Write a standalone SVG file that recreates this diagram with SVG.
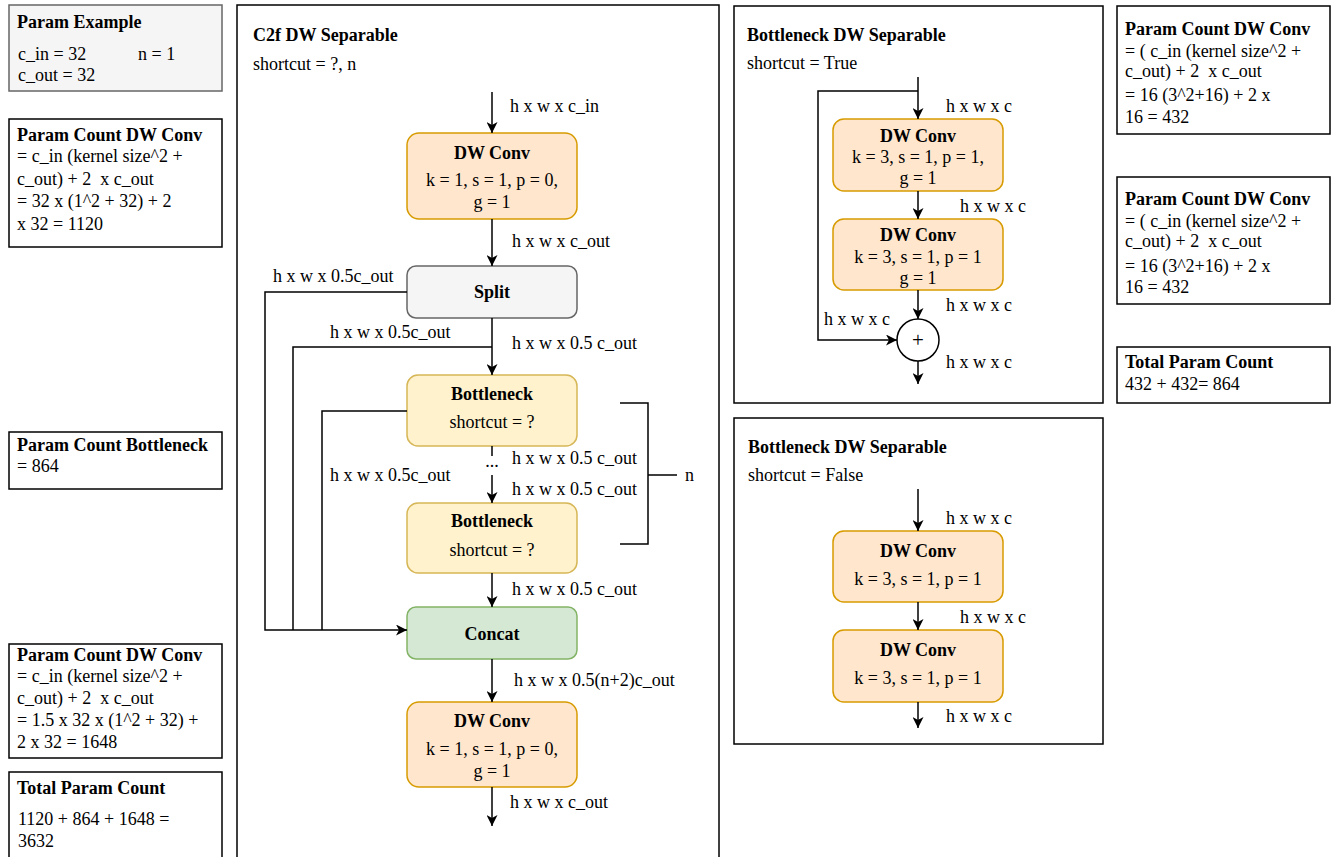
<svg xmlns="http://www.w3.org/2000/svg" width="1336" height="857" viewBox="0 0 1336 857">
  <style>
    text { font-family: "Liberation Serif", "Times New Roman", serif; font-size: 18px; fill: #000; white-space: pre; }
    .b { font-weight: bold; }
    .c { text-anchor: middle; }
    .panel { fill: #fff; stroke: #000; stroke-width: 1.5; }
    .note { fill: #f5f5f5; stroke: #666; stroke-width: 1.5; }
    .conv { fill: #ffe6cc; stroke: #d79b00; stroke-width: 1.5; }
    .split { fill: #f5f5f5; stroke: #666666; stroke-width: 1.5; }
    .bneck { fill: #fff2cc; stroke: #d6b656; stroke-width: 1.5; }
    .concat { fill: #d5e8d4; stroke: #82b366; stroke-width: 1.5; }
    .edge { fill: none; stroke: #000; stroke-width: 1.5; }
  </style>
  <defs>
    <marker id="arrow" markerUnits="userSpaceOnUse" markerWidth="12" markerHeight="11" refX="11" refY="5.5" orient="auto">
      <path d="M0,0 L11,5.5 L0,11 L3,5.5 Z" fill="#000"/>
    </marker>
  </defs>
  <rect width="1336" height="857" fill="#fff"/>

  <!-- left column: parameter notes -->
  <g id="param-example">
    <rect class="note" x="9" y="5" width="213" height="86"/>
    <text class="b" x="17" y="28">Param Example</text>
    <text x="18" y="60">c_in = 32</text>
    <text x="138" y="60">n = 1</text>
    <text x="18" y="81">c_out = 32</text>
  </g>
  <g id="count-conv-in">
    <rect class="panel" x="9" y="119" width="213" height="128"/>
    <text class="b" x="17" y="141">Param Count DW Conv</text>
    <text x="17" y="162">= c_in (kernel size^2 +</text>
    <text x="17" y="185" xml:space="preserve">c_out) + 2  x c_out</text>
    <text x="17" y="207">= 32 x (1^2 + 32) + 2</text>
    <text x="17" y="230">x 32 = 1120</text>
  </g>
  <g id="count-bottleneck">
    <rect class="panel" x="9" y="432" width="213" height="57"/>
    <text class="b" x="17" y="451">Param Count Bottleneck</text>
    <text x="17" y="472">= 864</text>
  </g>
  <g id="count-conv-out">
    <rect class="panel" x="9" y="644" width="213" height="114"/>
    <text class="b" x="17" y="661">Param Count DW Conv</text>
    <text x="17" y="682">= c_in (kernel size^2 +</text>
    <text x="17" y="704" xml:space="preserve">c_out) + 2  x c_out</text>
    <text x="17" y="726">= 1.5 x 32 x (1^2 + 32) +</text>
    <text x="17" y="748">2 x 32 = 1648</text>
  </g>
  <g id="total-c2f">
    <rect class="panel" x="9" y="772" width="213" height="100"/>
    <text class="b" x="17" y="794">Total Param Count</text>
    <text x="18" y="825">1120 + 864 + 1648 =</text>
    <text x="18" y="847">3632</text>
  </g>

  <!-- C2f block -->
  <g id="c2f-panel">
    <rect class="panel" x="237" y="5" width="482" height="870"/>
    <text class="b" x="253" y="41">C2f DW Separable</text>
    <text x="253" y="70">shortcut = ?, n</text>
  </g>
  <g id="c2f-conv-in">
    <rect class="conv" x="407" y="133" width="170" height="86" rx="12"/>
    <text class="b c" x="492" y="159">DW Conv</text>
    <text class="c" x="492" y="186">k = 1, s = 1, p = 0,</text>
    <text class="c" x="492" y="208">g = 1</text>
  </g>
  <g id="c2f-split">
    <rect class="split" x="407" y="266" width="170" height="52" rx="9"/>
    <text class="b c" x="492" y="298">Split</text>
  </g>
  <g id="c2f-bottleneck-1">
    <rect class="bneck" x="407" y="375" width="170" height="71" rx="11"/>
    <text class="b c" x="492" y="400">Bottleneck</text>
    <text class="c" x="492" y="428">shortcut = ?</text>
  </g>
  <g id="c2f-bottleneck-n">
    <rect class="bneck" x="407" y="503" width="170" height="70" rx="11"/>
    <text class="b c" x="492" y="527">Bottleneck</text>
    <text class="c" x="492" y="556">shortcut = ?</text>
  </g>
  <g id="c2f-concat">
    <rect class="concat" x="407" y="607" width="170" height="52" rx="9"/>
    <text class="b c" x="492" y="640">Concat</text>
  </g>
  <g id="c2f-conv-out">
    <rect class="conv" x="407" y="702" width="170" height="85" rx="12"/>
    <text class="b c" x="492" y="727">DW Conv</text>
    <text class="c" x="492" y="755">k = 1, s = 1, p = 0,</text>
    <text class="c" x="492" y="777">g = 1</text>
  </g>
  <g id="c2f-repeat">
    <path class="edge" d="M620,403 H648 V544 H620 M648,475 H677"/>
    <text x="685" y="481">n</text>
  </g>

  <!-- Bottleneck with shortcut -->
  <g id="bneck-true-panel">
    <rect class="panel" x="734" y="6" width="369" height="397"/>
    <text class="b" x="747" y="41">Bottleneck DW Separable</text>
    <text x="747" y="69">shortcut = True</text>
  </g>
  <g id="bneck-true-conv-1">
    <rect class="conv" x="833" y="119" width="170" height="72" rx="11"/>
    <text class="b c" x="918" y="142">DW Conv</text>
    <text class="c" x="918" y="163">k = 3, s = 1, p = 1,</text>
    <text class="c" x="918" y="184">g = 1</text>
  </g>
  <g id="bneck-true-conv-2">
    <rect class="conv" x="833" y="219" width="170" height="71" rx="11"/>
    <text class="b c" x="918" y="241">DW Conv</text>
    <text class="c" x="918" y="263">k = 3, s = 1, p = 1</text>
    <text class="c" x="918" y="284">g = 1</text>
  </g>
  <g id="bneck-true-add">
    <circle cx="918" cy="340" r="21" fill="#fff" stroke="#000" stroke-width="1.5"/>
    <text class="c" x="918" y="347" style="font-size:21px">+</text>
  </g>

  <!-- Bottleneck without shortcut -->
  <g id="bneck-false-panel">
    <rect class="panel" x="734" y="418" width="369" height="326"/>
    <text class="b" x="748" y="453">Bottleneck DW Separable</text>
    <text x="748" y="481">shortcut = False</text>
  </g>
  <g id="bneck-false-conv-1">
    <rect class="conv" x="833" y="531" width="170" height="71" rx="11"/>
    <text class="b c" x="918" y="557">DW Conv</text>
    <text class="c" x="918" y="585">k = 3, s = 1, p = 1</text>
  </g>
  <g id="bneck-false-conv-2">
    <rect class="conv" x="833" y="630" width="170" height="72" rx="11"/>
    <text class="b c" x="918" y="656">DW Conv</text>
    <text class="c" x="918" y="684">k = 3, s = 1, p = 1</text>
  </g>

  <!-- right column: parameter notes -->
  <g id="count-bneck-conv-1">
    <rect class="panel" x="1117" y="6" width="213" height="128"/>
    <text class="b" x="1125" y="35">Param Count DW Conv</text>
    <text x="1125" y="57">= ( c_in (kernel size^2 +</text>
    <text x="1125" y="77" xml:space="preserve">c_out) + 2  x c_out</text>
    <text x="1125" y="101">= 16 (3^2+16) + 2 x</text>
    <text x="1125" y="123">16 = 432</text>
  </g>
  <g id="count-bneck-conv-2">
    <rect class="panel" x="1117" y="177" width="213" height="127"/>
    <text class="b" x="1125" y="205">Param Count DW Conv</text>
    <text x="1125" y="227">= ( c_in (kernel size^2 +</text>
    <text x="1125" y="247" xml:space="preserve">c_out) + 2  x c_out</text>
    <text x="1125" y="272">= 16 (3^2+16) + 2 x</text>
    <text x="1125" y="293">16 = 432</text>
  </g>
  <g id="total-bneck">
    <rect class="panel" x="1117" y="347" width="213" height="56"/>
    <text class="b" x="1125" y="368">Total Param Count</text>
    <text x="1125" y="390">432 + 432= 864</text>
  </g>

  <!-- connectors -->
  <g id="connectors">
    <!-- C2f main path -->
    <path class="edge" d="M492,92 V133" marker-end="url(#arrow)"/>
    <path class="edge" d="M492,219 V266" marker-end="url(#arrow)"/>
    <path class="edge" d="M492,318 V375" marker-end="url(#arrow)"/>
    <path class="edge" d="M492,446 V456"/>
    <path class="edge" d="M492,475 V503" marker-end="url(#arrow)"/>
    <path class="edge" d="M492,573 V607" marker-end="url(#arrow)"/>
    <path class="edge" d="M492,659 V702" marker-end="url(#arrow)"/>
    <path class="edge" d="M492,787 V826" marker-end="url(#arrow)"/>
    <!-- C2f skip branches into Concat -->
    <path class="edge" d="M407,292 H265 V630 H407" marker-end="url(#arrow)"/>
    <path class="edge" d="M492,347 H293 V630"/>
    <path class="edge" d="M407,411 H322 V630"/>

    <!-- shortcut = True -->
    <path class="edge" d="M918,77 V119" marker-end="url(#arrow)"/>
    <path class="edge" d="M918,191 V219" marker-end="url(#arrow)"/>
    <path class="edge" d="M918,290 V319" marker-end="url(#arrow)"/>
    <path class="edge" d="M918,91 H818 V340 H897" marker-end="url(#arrow)"/>
    <path class="edge" d="M918,361 V384" marker-end="url(#arrow)"/>

    <!-- shortcut = False -->
    <path class="edge" d="M918,489 V531" marker-end="url(#arrow)"/>
    <path class="edge" d="M918,602 V630" marker-end="url(#arrow)"/>
    <path class="edge" d="M918,702 V728" marker-end="url(#arrow)"/>
  </g>

  <!-- connector labels -->
  <g id="edge-labels">
    <text x="510" y="112">h x w x c_in</text>
    <text x="512" y="247">h x w x c_out</text>
    <text x="273" y="282">h x w x 0.5c_out</text>
    <text x="330" y="338">h x w x 0.5c_out</text>
    <text x="512" y="349">h x w x 0.5 c_out</text>
    <text class="c" x="492" y="467">...</text>
    <text x="512" y="464">h x w x 0.5 c_out</text>
    <text x="330" y="481">h x w x 0.5c_out</text>
    <text x="512" y="495">h x w x 0.5 c_out</text>
    <text x="512" y="595">h x w x 0.5 c_out</text>
    <text x="514" y="686">h x w x 0.5(n+2)c_out</text>
    <text x="510" y="808">h x w x c_out</text>

    <text x="946" y="112">h x w x c</text>
    <text x="960" y="212">h x w x c</text>
    <text x="946" y="311">h x w x c</text>
    <text x="824" y="325">h x w x c</text>
    <text x="946" y="368">h x w x c</text>

    <text x="946" y="524">h x w x c</text>
    <text x="960" y="623">h x w x c</text>
    <text x="946" y="722">h x w x c</text>
  </g>
</svg>
